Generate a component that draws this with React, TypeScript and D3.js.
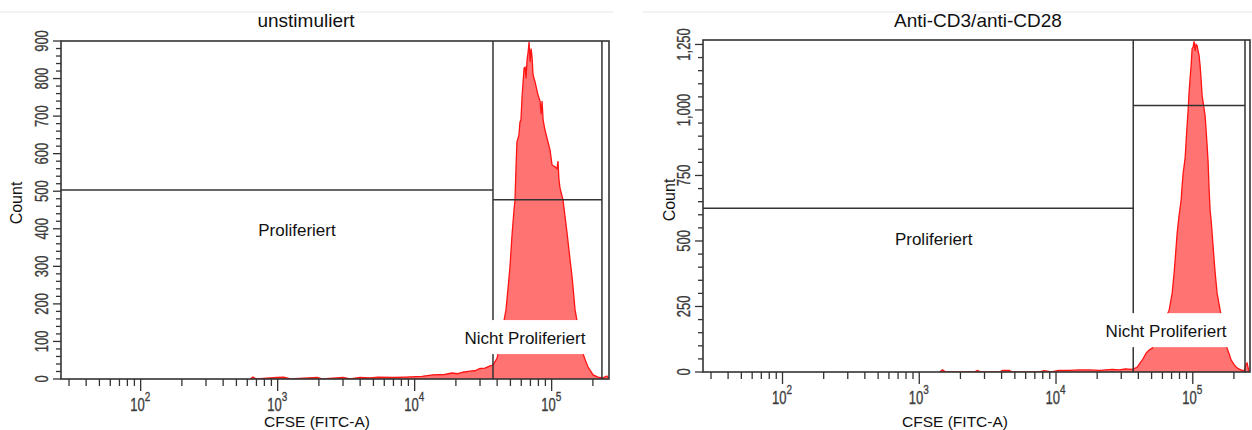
import React from 'react';
import * as d3 from 'd3';

const W = 1252;
const H = 430;

const titles = ['unstimuliert', 'Anti-CD3/anti-CD28'];
const xLabel = 'CFSE (FITC-A)';
const yLabel = 'Count';
const gateNames = ['Proliferiert', 'Nicht Proliferiert'];

// FlowJo style log axis, 4 decades
const xDomain = [26.2144, 262144];
const xMajorExp = [2, 3, 4, 5];
const leftYTicks = [0, 100, 200, 300, 400, 500, 600, 700, 800, 900];
const rightYTicks = [0, 250, 500, 750, 1000, 1250];

// unstimuliert histogram (CFSE value, count)
const leftCfse = [
  630, 660, 700, 990, 1110, 1240, 1950, 2130, 3000, 3380, 3990, 4720, 5400, 6950, 8530, 11300,
  13600, 16600, 18700, 20700, 22500, 25300, 27600, 30000, 32600, 35500, 37300, 39900, 42000,
  44100, 46400, 48000, 49600, 51300, 53100, 54000, 54900, 55800, 57700, 58700, 59700, 60800,
  62900, 64000, 65000, 66100, 67300, 68400, 69600, 70800, 72000, 73100, 75800, 79500, 82300,
  83700, 85100, 86600, 89400, 94000, 97300, 100600, 105700, 109400, 111200, 113100, 115000,
  121000, 129500, 136000, 140900, 148200, 155700, 161000, 169500, 178200, 184400, 200600,
  218000, 237000, 253000, 262000,
];
const leftCount = [
  0, 5, 0, 4, 5, 0, 4, 0, 4, 0, 4, 3, 5, 4, 5, 7,
  11, 12, 16, 14, 18, 21, 22, 28, 29, 35, 37, 55, 90,
  140, 184, 240, 298, 380, 450, 477, 562, 631, 650, 684, 690, 751,
  828, 830, 800, 849, 870, 897, 845, 880, 855, 810, 790, 756, 740,
  705, 740, 690, 663, 631, 610, 570, 565, 560, 580, 530, 509,
  477, 389, 320, 272, 184, 140, 104, 67, 45, 32, 11,
  5, 3, 8, 0,
];

// Anti-CD3/anti-CD28 histogram
const rightCfse = [
  1406, 1480, 1560, 2530, 2660, 2840, 3860, 4060, 4560, 4790, 7550, 8200, 9230, 10500, 12450,
  14800, 17600, 20800, 25800, 29100, 32100, 36100, 39200, 40600, 42700, 45600, 48000, 50500,
  53100, 56800, 61800, 67200, 70700, 73100, 74300, 76900, 79500, 82200, 83600, 85100, 87900,
  89400, 90900, 92500, 94000, 95600, 97300, 98900, 100600, 102200, 104000, 105700, 107600,
  109400, 111200, 113100, 115000, 117000, 119000, 123000, 125100, 127300, 129500, 131600,
  133900, 136200, 138500, 143300, 145700, 150600, 158500, 164000, 169500, 178200, 184400,
  190600, 200600, 207300, 216000, 225600, 237300, 245300, 249600, 257800,
];
const rightCount = [
  0, 8, 0, 0, 6, 0, 0, 6, 6, 0, 0, 5, 0, 6, 6,
  8, 8, 6, 10, 8, 12, 10, 18, 30, 45, 72, 84, 91,
  110, 150, 195, 236, 301, 380, 427, 530, 600, 655, 712, 760, 815,
  880, 941, 1000, 1067, 1120, 1170, 1234, 1240, 1262, 1225, 1250, 1246,
  1225, 1208, 1170, 1120, 1056, 1030, 980, 925, 865, 800, 700,
  617, 580, 530, 427, 380, 301, 236, 200, 150, 91, 70,
  46, 28, 19, 12, 8, 4, 30, 34, 0,
];

// gates: [vertical split, right border, proliferiert top, nicht proliferiert top]
const leftGates = [37300, 232800, 503, 477];
const rightGates = [36700, 241000, 625, 1017];

const AXIS_FONT = '"Liberation Sans", Arial, sans-serif';
const INK = '#333';
const TICK_TXT = '#3c3c3c';

type PanelProps = {
  x0: number; y0: number; w: number; h: number;
  yMax: number; yTicks: number[]; yMinor: number;
  cfse: number[]; counts: number[]; gates: number[];
  title: string; titleCx: number; xLabelCx: number; countX: number; countCy: number;
  prolif: [number, number]; nicht: [number, number]; id: string;
};

const Panel = (p: PanelProps) => {
  const x = d3.scaleLog().domain(xDomain).range([p.x0, p.x0 + p.w]);
  const y = d3.scaleLinear().domain([0, p.yMax]).range([p.y0 + p.h, p.y0]);
  const bottom = p.y0 + p.h;

  const pts = p.cfse.map((v, i) => [v, p.counts[i]] as [number, number]);
  const area = d3.area<[number, number]>().x((d) => x(d[0])).y0(bottom).y1((d) => y(d[1]));
  const line = d3.line<[number, number]>().x((d) => x(d[0])).y((d) => y(d[1]));

  const minor: number[] = [];
  for (let e = 1; e <= 5; e++) {
    for (let k = 2; k <= 9; k++) {
      const v = k * Math.pow(10, e);
      if (v > xDomain[0] && v < xDomain[1]) minor.push(v);
    }
  }
  const yMinorTicks = d3.range(0, p.yMax, p.yMinor).filter((v) => !p.yTicks.includes(v));
  const fmt = d3.format(',');
  const [gx, gr, gp, gn] = p.gates;

  return (
    <g>
      <defs>
        <clipPath id={`clip-${p.id}`}>
          <rect x={p.x0} y={p.y0} width={p.w} height={p.h} />
        </clipPath>
      </defs>
      <text x={p.titleCx} y={27} textAnchor="middle" fontSize={19} fontFamily={AXIS_FONT} fill="#111">
        {p.title}
      </text>
      <g clipPath={`url(#clip-${p.id})`}>
        <path d={area(pts) || ''} fill="rgba(255,0,0,0.55)" />
        <path d={line(pts) || ''} fill="none" stroke="#ff1414" strokeWidth={1.3} />
      </g>
      {/* gates */}
      <g stroke={INK} strokeWidth={1.5}>
        <line x1={x(gx)} x2={x(gx)} y1={p.y0} y2={bottom} />
        <line x1={x(gr)} x2={x(gr)} y1={p.y0} y2={bottom} />
        <line x1={p.x0} x2={x(gx)} y1={y(gp)} y2={y(gp)} />
        <line x1={x(gx)} x2={x(gr)} y1={y(gn)} y2={y(gn)} />
      </g>
      <rect x={p.x0} y={p.y0} width={p.w} height={p.h} fill="none" stroke={INK} strokeWidth={1.6} />
      {/* y ticks */}
      <g stroke={INK} strokeWidth={1.3}>
        {p.yTicks.map((t) => (
          <line key={t} x1={p.x0 - 8} x2={p.x0} y1={y(t)} y2={y(t)} />
        ))}
        {yMinorTicks.map((t) => (
          <line key={t} x1={p.x0 - 5} x2={p.x0} y1={y(t)} y2={y(t)} />
        ))}
      </g>
      {p.yTicks.map((t) => (
        <g key={t} transform={`translate(${p.x0 - 13},${y(t)}) rotate(-90) scale(1,1.35)`}>
          <text
            textAnchor="middle"
            fontSize={13}
            fontFamily={AXIS_FONT}
            fill={TICK_TXT}
            stroke={TICK_TXT}
            strokeWidth={0.25}
          >
            {fmt(t)}
          </text>
        </g>
      ))}
      {/* x ticks */}
      <g stroke={INK} strokeWidth={1.3}>
        {xMajorExp.map((e) => (
          <line key={e} x1={x(Math.pow(10, e))} x2={x(Math.pow(10, e))} y1={bottom} y2={bottom + 12} />
        ))}
        {minor.map((v) => (
          <line key={v} x1={x(v)} x2={x(v)} y1={bottom} y2={bottom + 7} />
        ))}
      </g>
      {xMajorExp.map((e) => {
        const tx = x(Math.pow(10, e)) + 4;
        return (
          <g key={e} fontFamily={AXIS_FONT} fill={TICK_TXT} stroke={TICK_TXT} strokeWidth={0.25}>
            <g transform={`translate(${tx},${bottom + 32}) scale(1,1.35)`}>
              <text textAnchor="end" fontSize={13}>10</text>
            </g>
            <g transform={`translate(${tx},${bottom + 22}) scale(1,1.35)`}>
              <text fontSize={10}>{e}</text>
            </g>
          </g>
        );
      })}
      <text x={p.xLabelCx} y={427} textAnchor="middle" fontSize={15.5} fontFamily={AXIS_FONT} fill="#111">
        {xLabel}
      </text>
      <text
        transform={`translate(${p.countX},${p.countCy}) rotate(-90)`}
        textAnchor="middle"
        fontSize={16}
        fontFamily={AXIS_FONT}
        fill="#111"
      >
        {yLabel}
      </text>
      {/* gate labels */}
      <text x={x(p.prolif[0])} y={y(p.prolif[1])} textAnchor="middle" fontSize={17} fontFamily={AXIS_FONT} fill="#111">
        {gateNames[0]}
      </text>
      <rect x={x(p.nicht[0]) - 68} y={y(p.nicht[1]) - 24} width={136} height={34} fill="#fff" />
      <text x={x(p.nicht[0])} y={y(p.nicht[1])} textAnchor="middle" fontSize={17} fontFamily={AXIS_FONT} fill="#111">
        {gateNames[1]}
      </text>
    </g>
  );
};

export default function App() {
  return (
    <svg
      width={W}
      height={H}
      style={{ position: 'absolute', left: 0, top: 0, background: '#fff' }}
    >
      <line x1={0} x2={613} y1={12} y2={12} stroke="#e8e8e8" strokeWidth={1} />
      <line x1={643} x2={W} y1={12} y2={12} stroke="#e8e8e8" strokeWidth={1} />
      <Panel
        id="l"
        x0={61} y0={41} w={548} h={338}
        yMax={900} yTicks={leftYTicks} yMinor={20}
        cfse={leftCfse} counts={leftCount} gates={leftGates}
        title={titles[0]} titleCx={306} xLabelCx={317} countX={22} countCy={203}
        prolif={[1384, 381]} nicht={[63800, 93]}
      />
      <Panel
        id="r"
        x0={703} y0={40} w={547} h={332}
        yMax={1267} yTicks={rightYTicks} yMinor={50}
        cfse={rightCfse} counts={rightCount} gates={rightGates}
        title={titles[1]} titleCx={978} xLabelCx={955} countX={675} countCy={200}
        prolif={[1274, 484]} nicht={[63800, 133]}
      />
    </svg>
  );
}
